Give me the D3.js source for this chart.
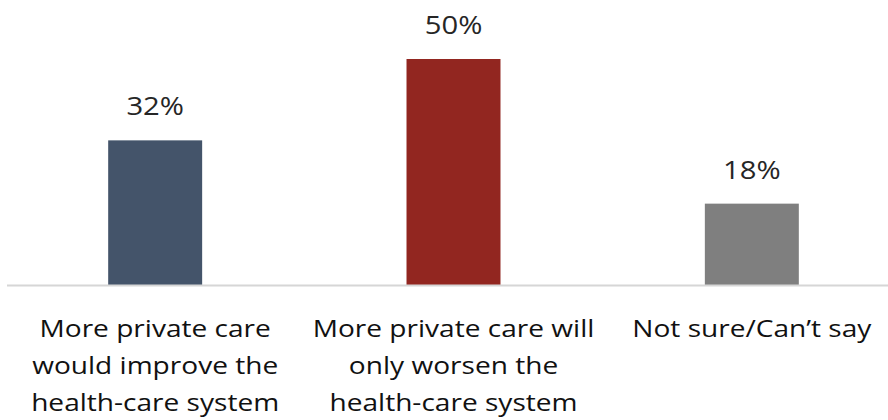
<!DOCTYPE html>
<html>
<head>
<meta charset="utf-8">
<script src="https://cdn.jsdelivr.net/npm/d3@7"></script>
<style>
  body { margin: 0; background: #fff; }
  text { font-family: "Open Sans", "Roboto", sans-serif; }
</style>
</head>
<body>
<script>
// de data van de grafiek
const categories = ['improve', 'worsen', 'notsure']
const values = [32, 50, 18]
const labelLines = [
	['More private care', 'would improve the', 'health-care system'],
	['More private care will', 'only worsen the', 'health-care system'],
	['Not sure/Can\u2019t say']
]
const colors = ['#44546a', '#922620', '#7f7f7f']

const width = 888
const height = 420
const baseline = 285
const stretch = 1.17 // de tekst in het origineel is wat breder uitgerekt

const svg = d3.select('body').append('svg').attr('width', width).attr('height', height)

const xscale = d3.scaleBand().domain(categories).range([6, 901]).paddingInner(0.685).paddingOuter(0.3425)
const yscale = d3.scaleLinear().domain([0, 50]).range([baseline, 59])
const cx = i => xscale(categories[i]) + xscale.bandwidth() / 2

// bars
svg.selectAll('rect.bar')
	.data(values)
	.join('rect')
	.attr('class', 'bar')
	.attr('x', (d, i) => xscale(categories[i]))
	.attr('y', d => yscale(d))
	.attr('width', xscale.bandwidth())
	.attr('height', d => yscale(0) - yscale(d))
	.attr('fill', (d, i) => colors[i])

// as lijn
svg.append('line')
	.attr('x1', 7).attr('x2', 888)
	.attr('y1', baseline + 0.5).attr('y2', baseline + 0.5)
	.attr('stroke', '#d6d6d6').attr('stroke-width', 2)

// waarde labels boven de bars
svg.selectAll('text.value')
	.data(values)
	.join('text')
	.attr('class', 'value')
	.attr('transform', (d, i) => `translate(${cx(i)},${yscale(d) - 25}) scale(${stretch},1)`)
	.attr('text-anchor', 'middle')
	.attr('font-size', 25)
	.attr('fill', '#262626')
	.text(d => d + '%')

// categorie labels onder de as
const cat = svg.selectAll('g.cat')
	.data(labelLines)
	.join('g')
	.attr('class', 'cat')
	.attr('transform', (d, i) => `translate(${cx(i)},0)`)

cat.selectAll('text')
	.data(d => d)
	.join('text')
	.attr('transform', (d, j) => `translate(0,${337 + j * 37}) scale(${stretch},1)`)
	.attr('text-anchor', 'middle')
	.attr('font-size', 24)
	.attr('fill', '#111')
	.text(d => d)
</script>
</body>
</html>
